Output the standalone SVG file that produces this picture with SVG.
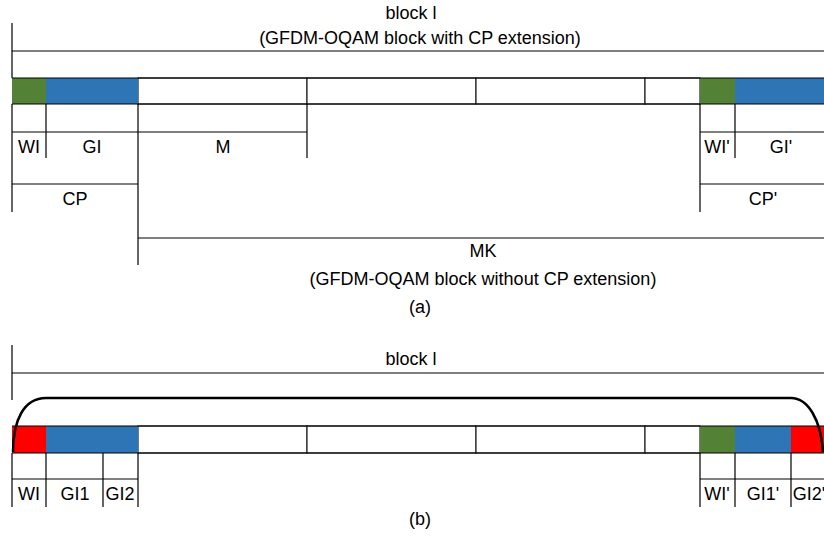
<svg xmlns="http://www.w3.org/2000/svg" width="824" height="539" viewBox="0 0 824 539">
<style>
.t{font-family:"Liberation Sans",Arial,sans-serif;font-size:18px;fill:#000;text-anchor:middle}
.l{stroke:#000;stroke-width:1.2;fill:none}
.c{stroke:#222;stroke-width:1.2;fill:#fff}
.g{fill:#538135}
.b{fill:#2E75B6}
.r{fill:#FF0000}
</style>
<rect width="824" height="539" fill="#fff"/>
<g id="block-a">
<rect class="c" x="138" y="78" width="169" height="26"/>
<rect class="c" x="307" y="78" width="169" height="26"/>
<rect class="c" x="476" y="78" width="169" height="26"/>
<rect class="c" x="645" y="78" width="55" height="26"/>
<rect class="g" x="12" y="78" width="34" height="26"/>
<rect class="b" x="46" y="78" width="92" height="26"/>
<rect class="g" x="700" y="78" width="35" height="26"/>
<rect class="b" x="735" y="78" width="89" height="26"/>
<path class="l" d="M12,78H824M12,104H824"/>
</g>
<g id="block-b">
<rect class="c" x="138" y="426" width="169" height="27"/>
<rect class="c" x="307" y="426" width="169" height="27"/>
<rect class="c" x="476" y="426" width="169" height="27"/>
<rect class="c" x="645" y="426" width="55" height="27"/>
<rect class="r" x="12" y="426" width="34" height="27"/>
<rect class="b" x="46" y="426" width="92" height="27"/>
<rect class="g" x="700" y="426" width="35" height="27"/>
<rect class="b" x="735" y="426" width="56" height="27"/>
<rect class="r" x="791" y="426" width="33" height="27"/>
<path class="l" d="M12,426H824M12,453H824"/>
</g>
<g id="connectors">
<path class="l" d="M12,23V78M12,51H824"/>
<path class="l" d="M12,104V212M46,104V158M12,132H307M307,104V158M138,104V265M12,184H138M138,238H824"/>
<path class="l" d="M700,104V212M735,104V158M700,132H824M700,184H824"/>
<path class="l" d="M12,345V400M12,373H824"/>
<path class="l" d="M12,453V507M46,453V507M103,453V507M138,453V507M12,479H138"/>
<path class="l" d="M700,453V507M735,453V507M791,453V507M700,479H824"/>
<path fill="none" stroke="#000" stroke-width="2.5" d="M13,452C13,420 24,398 46,398L791,398C808,398 821,420 823,452"/>
</g>
<g id="labels">
<text class="t" x="411" y="19">block  l</text>
<text class="t" x="420" y="44">(GFDM-OQAM block with CP extension)</text>
<text class="t" x="29" y="153">WI</text>
<text class="t" x="92" y="153">GI</text>
<text class="t" x="223" y="153">M</text>
<text class="t" x="75" y="205">CP</text>
<text class="t" x="717" y="153">WI'</text>
<text class="t" x="781" y="153">GI'</text>
<text class="t" x="763" y="205">CP'</text>
<text class="t" x="483" y="257">MK</text>
<text class="t" x="483" y="285">(GFDM-OQAM block without CP extension)</text>
<text class="t" x="420" y="313">(a)</text>
<text class="t" x="411" y="365">block  l</text>
<text class="t" x="29" y="500">WI</text>
<text class="t" x="75" y="500">GI1</text>
<text class="t" x="120" y="500">GI2</text>
<text class="t" x="717" y="500">WI'</text>
<text class="t" x="763" y="500">GI1'</text>
<text class="t" x="809" y="500">GI2'</text>
<text class="t" x="420" y="525">(b)</text>
</g>
</svg>
